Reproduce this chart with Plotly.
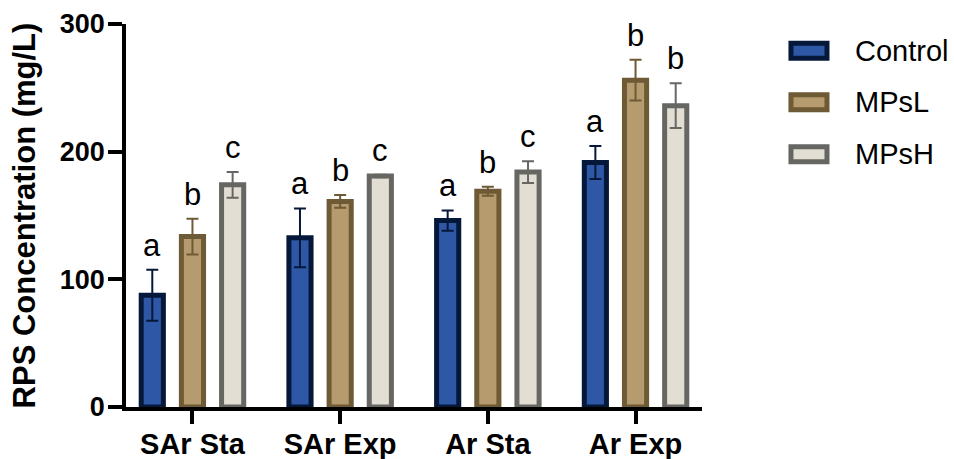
import plotly.graph_objects as go

# ---------------- data ----------------
categories = ["SAr Sta", "SAr Exp", "Ar Sta", "Ar Exp"]
series_names = ["Control", "MPsL", "MPsH"]
control = [87.5, 132.5, 146, 191.5]
control_err = [20, 23, 8, 13]
mpsl = [133.5, 161, 169, 256]
mpsl_err = [14, 5, 3.5, 16]
mpsh = [174, 181, 184, 236]
mpsh_err = [10, 1, 8.5, 17.5]
control_letters = ["a", "a", "a", "a"]
mpsl_letters = ["b", "b", "b", "b"]
mpsh_letters = ["c", "c", "c", "b"]
y_ticks = [0, 100, 200, 300]

# ---------------- style ----------------
W, H = 954, 459
ML, MT, MB = 126, 24, 52
X_RANGE = [-0.45, 3.45]
PLOT_W = 575.6
MR = W - ML - PLOT_W
PLOT_H = H - MT - MB
PX_PER_CAT = PLOT_W / (X_RANGE[1] - X_RANGE[0])

fills = ["#2E57A5", "#B59B6E", "#E2DED3"]
borders = ["#06183A", "#6E5A35", "#666663"]
bar_w = 0.15
offsets = [-0.272, 0.0, 0.272]
FONT = "Arial, Liberation Sans, sans-serif"

values = [control, mpsl, mpsh]
errors = [control_err, mpsl_err, mpsh_err]
letters = [control_letters, mpsl_letters, mpsh_letters]

fig = go.Figure()
for i in range(3):
    fig.add_trace(go.Bar(
        x=categories, y=values[i], name=series_names[i],
        width=bar_w, offset=offsets[i] - bar_w / 2,
        marker=dict(color=fills[i], line=dict(color=borders[i], width=5)),
        error_y=dict(type="data", array=errors[i], visible=True,
                     color=borders[i], thickness=2, width=6),
        showlegend=False,
    ))

annotations = []
for i in range(3):
    for j, c in enumerate(categories):
        annotations.append(dict(
            x=c, y=values[i][j] + errors[i][j], xref="x", yref="y",
            text=letters[i][j], showarrow=False,
            xshift=offsets[i] * PX_PER_CAT, yshift=5,
            xanchor="center", yanchor="bottom",
            font=dict(family=FONT, size=31, color="black"),
        ))


def px_x(px):
    return (px - ML) / PLOT_W


def px_y(py):
    return (H - MB - py) / PLOT_H


shapes = []
legend_centers = [50.7, 102.3, 154.3]
for i in range(3):
    cy = legend_centers[i]
    shapes.append(dict(
        type="rect", xref="paper", yref="paper",
        x0=px_x(790.5), x1=px_x(826.5), y0=px_y(cy + 7.5), y1=px_y(cy - 7.5),
        fillcolor=fills[i], line=dict(color=borders[i], width=5),
    ))
    annotations.append(dict(
        x=px_x(852), y=px_y(cy), xref="paper", yref="paper",
        text=series_names[i], showarrow=False,
        xanchor="left", yanchor="middle",
        font=dict(family=FONT, size=29, color="black"),
    ))

fig.update_layout(
    width=W, height=H, autosize=False,
    margin=dict(l=ML, r=MR, t=MT, b=MB, pad=0),
    paper_bgcolor="white", plot_bgcolor="white",
    barmode="overlay",
    annotations=annotations, shapes=shapes,
    font=dict(family=FONT, color="black"),
)
fig.update_xaxes(
    range=X_RANGE, showline=True, linecolor="black", linewidth=3.5,
    ticks="outside", ticklen=13, tickwidth=3.5, tickcolor="black",
    tickfont=dict(family=FONT, size=29, color="black", weight="bold"),
    ticklabelstandoff=-5,
    showgrid=False, zeroline=False, automargin=False,
)
fig.update_yaxes(
    range=[0, 300], tickvals=y_ticks, showline=True, linecolor="black",
    linewidth=3.5, ticks="outside", ticklen=14, tickwidth=3.5, tickcolor="black",
    tickfont=dict(family=FONT, size=27, color="black", weight="bold"),
    ticklabelstandoff=-2,
    title=dict(text="RPS Concentration (mg/L)", standoff=16,
               font=dict(family=FONT, size=31, color="black", weight="bold")),
    showgrid=False, zeroline=False, automargin=False,
)

fig.write_html("out.html")
